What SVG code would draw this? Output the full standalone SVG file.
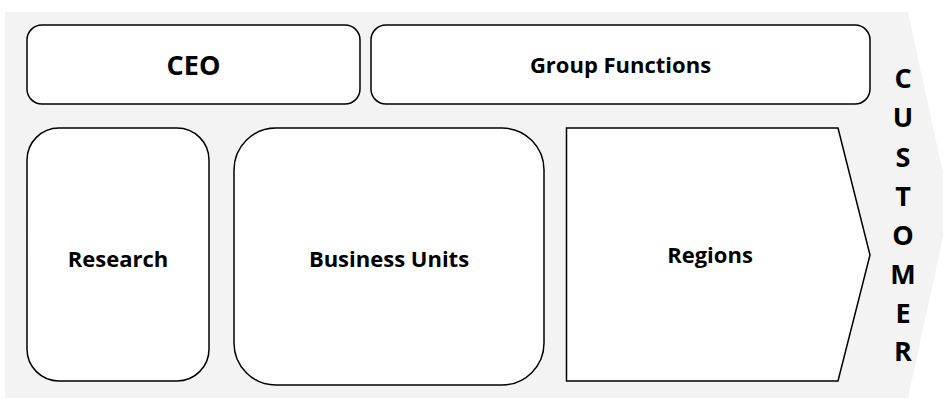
<svg xmlns="http://www.w3.org/2000/svg" width="943" height="403" viewBox="0 0 943 403">
<style>
.box{fill:#fff;stroke:#000;stroke-width:1.5}
.t{font-family:"Open Sans","Liberation Sans",sans-serif;font-weight:bold;fill:#000;text-anchor:middle}
</style>
<rect width="943" height="403" fill="#fff"/>
<polygon points="5,12 908,12 950,205 908,398 5,398" fill="#f3f3f3"/>
<g id="ceo"><rect class="box" x="27" y="25" width="333" height="79" rx="15"/><text class="t" x="193.5" y="75" font-size="27">CEO</text></g>
<g id="group-functions"><rect class="box" x="371" y="25" width="499" height="79" rx="15"/><text class="t" x="620.5" y="73" font-size="22">Group Functions</text></g>
<g id="research"><rect class="box" x="27" y="128" width="182" height="253" rx="32"/><text class="t" x="118" y="267" font-size="22">Research</text></g>
<g id="business-units"><rect class="box" x="234" y="128" width="310" height="257" rx="42"/><text class="t" x="389" y="267" font-size="22">Business Units</text></g>
<g id="regions"><polygon class="box" points="566.5,128 838,128 870,255 838,381 566.5,381"/><text class="t" x="710" y="263" font-size="22">Regions</text></g>
<g id="customer"><text class="t" font-size="27"><tspan x="903" y="88">C</tspan><tspan x="903" y="127">U</tspan><tspan x="903" y="167">S</tspan><tspan x="903" y="206">T</tspan><tspan x="903" y="245">O</tspan><tspan x="903" y="284">M</tspan><tspan x="903" y="323">E</tspan><tspan x="903" y="361">R</tspan></text></g>
<g id="connectors"/>
</svg>
